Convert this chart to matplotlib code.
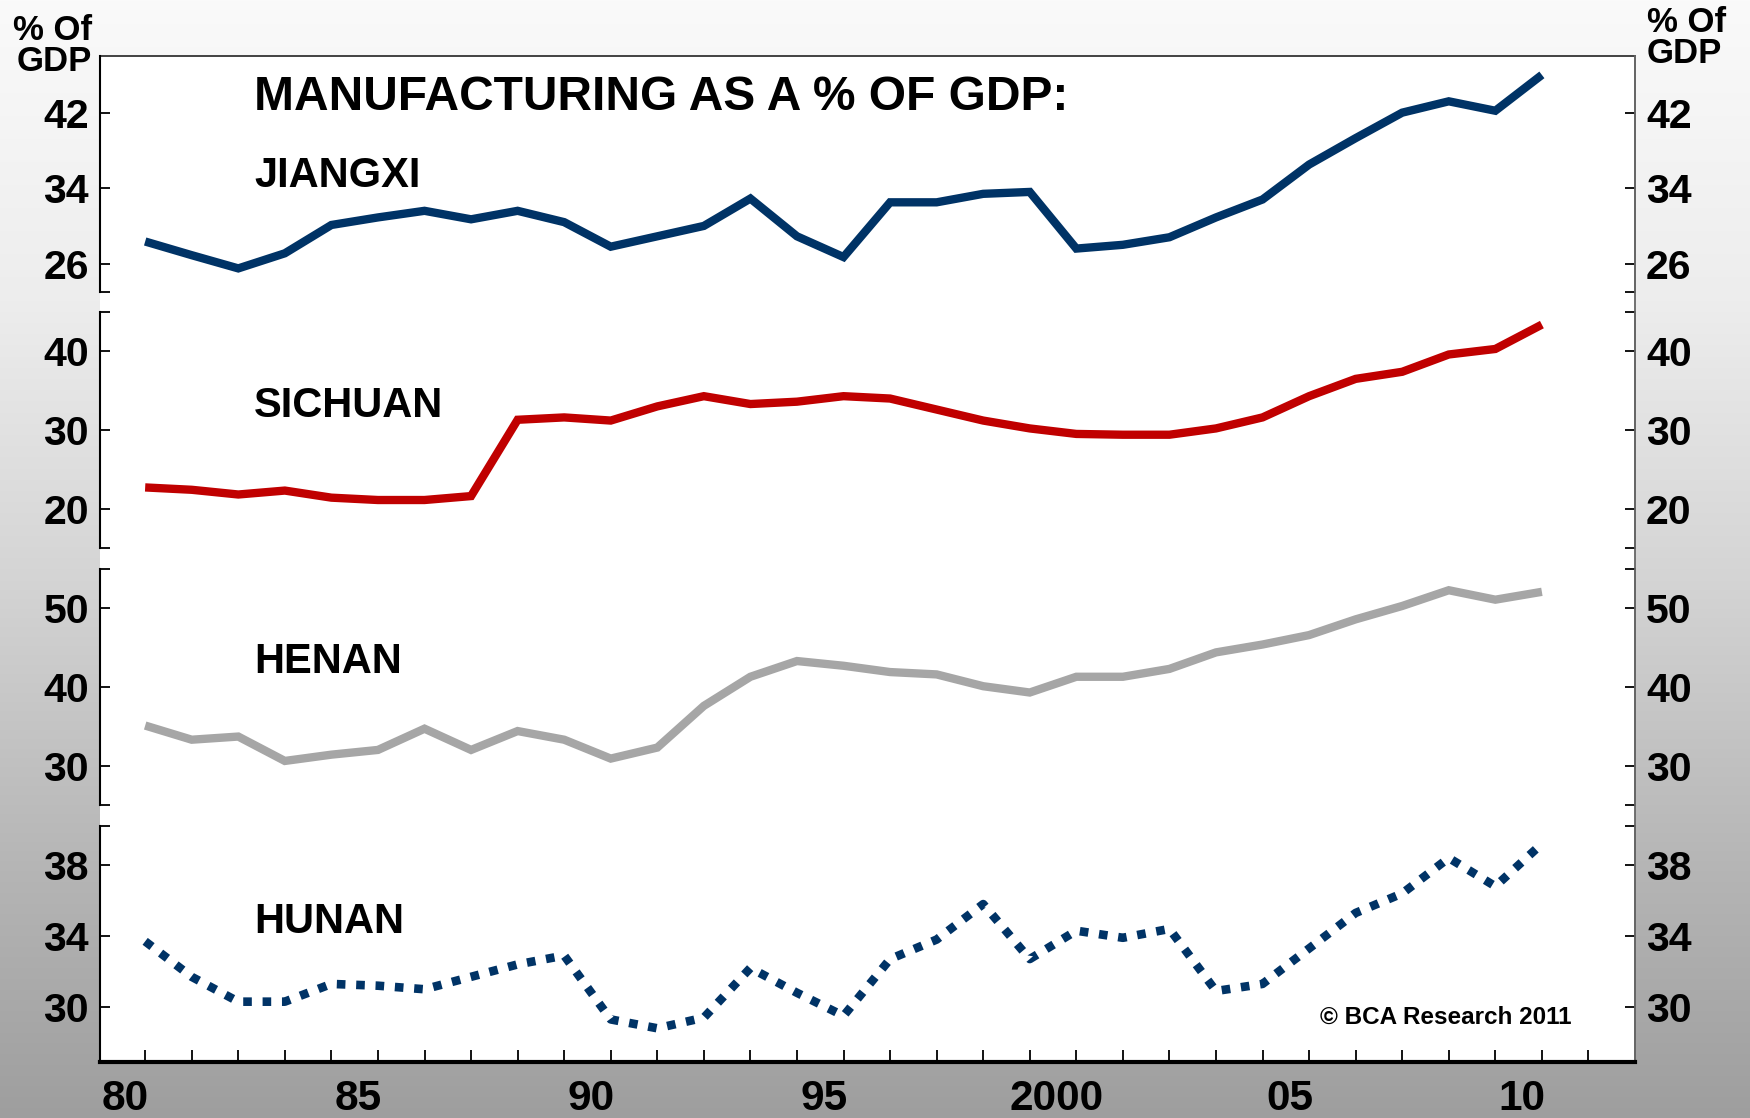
import numpy as np
import matplotlib
matplotlib.use("Agg")
import matplotlib.pyplot as plt

plt.rcParams['font.family'] = ['Liberation Sans', 'DejaVu Sans']
plt.rcParams['font.weight'] = 'bold'

years = list(range(1980, 2011))
jiangxi = [28.35, 26.9, 25.5, 27.1, 30.1, 30.9, 31.6, 30.7, 31.6, 30.4,
           27.8, 28.9, 30.0, 32.9, 28.9, 26.7, 32.5, 32.5, 33.4, 33.6,
           27.6, 28.0, 28.8, 30.9, 32.8, 36.5, 39.3, 42.0, 43.2, 42.2, 46.0]
sichuan = [22.7, 22.4, 21.8, 22.3, 21.4, 21.1, 21.1, 21.6, 31.3, 31.6,
           31.2, 33.0, 34.3, 33.3, 33.6, 34.3, 34.0, 32.6, 31.2, 30.2,
           29.5, 29.4, 29.4, 30.2, 31.6, 34.3, 36.5, 37.4, 39.6, 40.3, 43.4]
henan = [35.1, 33.3, 33.7, 30.6, 31.4, 32.0, 34.7, 32.0, 34.4, 33.3,
         30.9, 32.3, 37.6, 41.3, 43.3, 42.7, 41.9, 41.6, 40.1, 39.3,
         41.3, 41.3, 42.3, 44.4, 45.4, 46.6, 48.6, 50.3, 52.3, 51.1, 52.1]
hunan = [33.7, 31.7, 30.3, 30.3, 31.3, 31.2, 31.0, 31.7, 32.4, 32.9,
         29.3, 28.8, 29.4, 32.2, 30.8, 29.5, 32.7, 33.8, 35.8, 32.7,
         34.3, 33.9, 34.4, 30.9, 31.3, 33.3, 35.3, 36.4, 38.4, 36.8, 39.2]

names = ["JIANGXI", "SICHUAN", "HENAN", "HUNAN"]
series = [jiangxi, sichuan, henan, hunan]
ylims = [(23, 48), (15, 45), (25, 55), (26.9, 40.2)]
yticks = [[23, 26, 34, 42], [15, 20, 30, 40, 45], [25, 30, 40, 50, 55], [26.9, 30, 34, 38, 40.2]]
yticklabels = [["", "26", "34", "42"], ["", "20", "30", "40", ""],
               ["", "30", "40", "50", ""], ["", "30", "34", "38", ""]]
xtick_years = list(range(1980, 2012))
xlabel_years = [1980, 1985, 1990, 1995, 2000, 2005, 2010]
xlabels = ["80", "85", "90", "95", "2000", "05", "10"]

title = "MANUFACTURING AS A % OF GDP:"
copyright_text = "\u00a9 BCA Research 2011"

colors = ["#003366", "#c00000", "#a6a6a6", "#003366"]

W, H = 1750, 1118
fig = plt.figure(figsize=(W / 100, H / 100), dpi=100)

# background gradient
bg = fig.add_axes([0, 0, 1, 1], zorder=-10)
ys = np.array([0, 300, 580, 860, 1118])
vs = np.array([250, 237, 212, 182, 158]) / 255.0
yy = np.arange(H)
grad = np.interp(yy, ys, vs)
img = np.repeat(grad[:, None], 4, axis=1)
bg.imshow(np.dstack([img, img, img]), aspect='auto', extent=[0, 1, 0, 1], origin='upper')
bg.set_axis_off()

def fx(px):
    return px / W

def fy(py):
    return 1 - py / H

left_px, right_px = 100, 1635
top_px, bot_px = 56, 1062
box = fig.add_axes([fx(left_px), fy(bot_px), fx(right_px - left_px), (bot_px - top_px) / H], zorder=-5)
box.set_facecolor("white")
box.set_xticks([]); box.set_yticks([])
for s in ["left", "bottom"]:
    box.spines[s].set_visible(False)
box.spines["top"].set_linewidth(1.3)
box.spines["top"].set_color("#333333")
box.spines["right"].set_linewidth(1.3)
box.spines["right"].set_color("#666666")

panels = [(56, 292), (312, 548), (569, 805), (826, 1062)]
xlim = (1979.03, 2012.0)

for i, ((pt, pb), data, col) in enumerate(zip(panels, series, colors)):
    ax = fig.add_axes([fx(left_px), fy(pb), fx(right_px - left_px), (pb - pt) / H])
    ax.patch.set_visible(False)
    ax.set_xlim(*xlim)
    ax.set_ylim(*ylims[i])
    if i == 3:
        ax.plot(years, data, color=col, lw=6.2, linestyle=(0, (1, 1.25)),
                dash_capstyle='butt', solid_joinstyle='miter', zorder=3)
    else:
        ax.plot(years, data, color=col, lw=6.0, solid_joinstyle='miter',
                solid_capstyle='butt', zorder=3)
    ax.spines["top"].set_visible(False)
    ax.spines["left"].set_linewidth(1.5)
    ax.spines["right"].set_linewidth(1.3)
    ax.spines["right"].set_color("#666666")
    ax.set_yticks(yticks[i])
    ax.set_yticklabels(yticklabels[i], fontsize=29.5, fontweight='bold')
    ax.tick_params(axis='y', which='major', direction='in', length=7.5, width=1.3,
                   left=True, right=True, labelleft=True, labelright=True, pad=8)
    if i < 3:
        ax.spines["bottom"].set_visible(False)
        ax.set_xticks([])
    else:
        ax.spines["bottom"].set_linewidth(3)
        ax.set_xticks(xtick_years)
        ax.set_xticklabels([])
        ax.set_xticks([y - 0.42 for y in xlabel_years], minor=True)
        ax.set_xticklabels(xlabels, minor=True, fontsize=30.5, fontweight='bold')
        ax.tick_params(axis='x', which='major', direction='in', length=9, width=1.3)
        ax.tick_params(axis='x', which='minor', length=0, pad=12)

# texts
fig.text(fx(254), fy(110), title, fontsize=34.5, fontweight='bold', va='baseline', ha='left')
label_baselines = [187, 417, 673, 933]
for name, b in zip(names, label_baselines):
    fig.text(fx(254), fy(b), name, fontsize=30, fontweight='bold', va='baseline', ha='left')

fig.text(fx(1572), fy(1024), copyright_text, fontsize=17.5, fontweight='bold', va='baseline', ha='right')

# axis unit headers
fig.text(fx(92), fy(40), "% Of", fontsize=25, fontweight='bold', va='baseline', ha='right')
fig.text(fx(92), fy(71), "GDP", fontsize=25, fontweight='bold', va='baseline', ha='right')
fig.text(fx(1647), fy(32), "% Of", fontsize=25, fontweight='bold', va='baseline', ha='left')
fig.text(fx(1647), fy(63), "GDP", fontsize=25, fontweight='bold', va='baseline', ha='left')

fig.savefig("out.png", dpi=100)
